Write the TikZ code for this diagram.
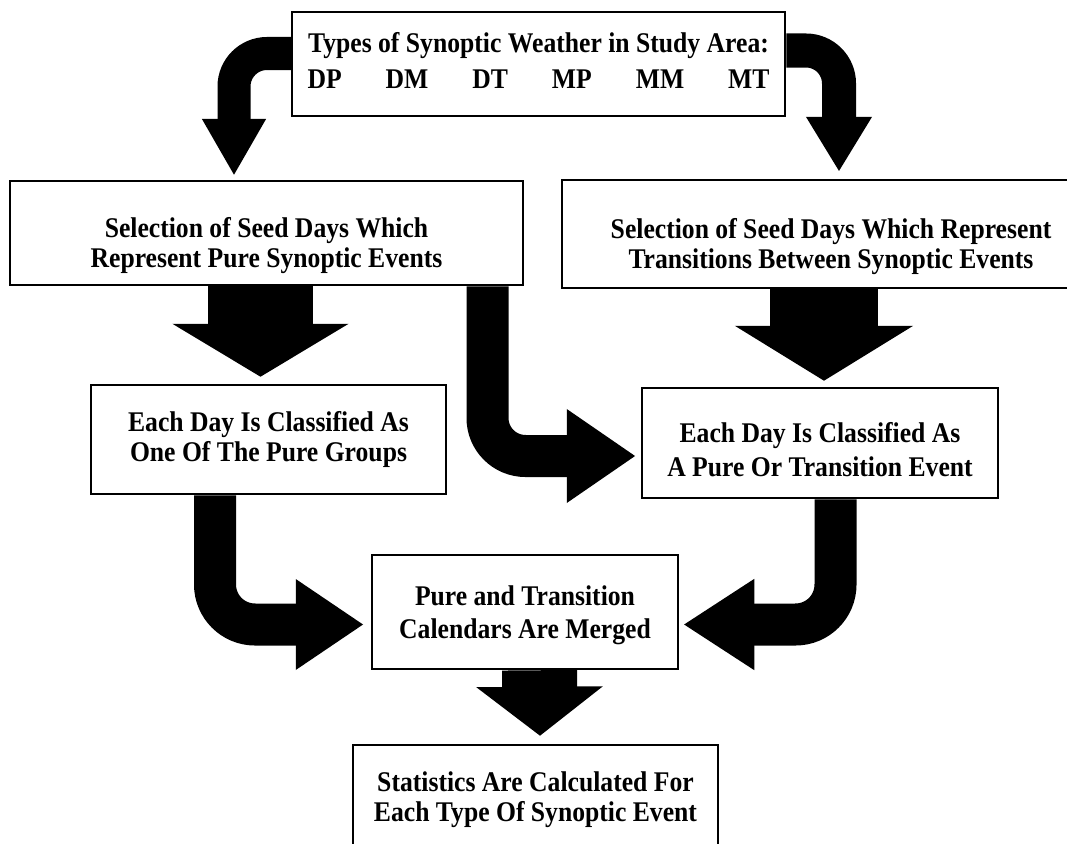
\documentclass[tikz,border=0pt]{standalone}
\usepackage{fontspec}
\setmainfont{Liberation Serif}[FakeStretch=0.9]
\usetikzlibrary{arrows.meta}

\newcommand{\drop}[1]{\rule{0pt}{#1pt}}

\begin{document}
\begin{tikzpicture}[
    x=1pt,y=-1pt,
    box/.style={draw,line width=2.5pt,align=center,inner sep=0pt,
      font=\fontsize{28.5}{30}\selectfont\bfseries},
    fat/.style n args={3}{line width=#1,-{Triangle[width=#2,length=#3]}}
    ]
    \useasboundingbox (0,0) rectangle (1067,843);
    \node[box,minimum width=493pt,minimum height=104pt,
      font=\fontsize{28.5}{36}\selectfont\bfseries] (types) at (538.5,64)
      {Types of Synoptic Weather in Study Area:\\
       \makebox[462pt]{DP\hfill DM\hfill DT\hfill MP\hfill MM\hfill MT}\rule[-8pt]{0pt}{8pt}};
    \node[box,minimum width=513pt,minimum height=104pt] (seedpure) at (266.5,233)
      {\drop{45}Selection of Seed Days Which\\Represent Pure Synoptic Events};
    \node[box,minimum width=538pt,minimum height=108pt] (seedtrans) at (831,234)
      {\drop{45}Selection of Seed Days Which Represent\\Transitions Between Synoptic Events};
    \node[box,minimum width=355pt,minimum height=109pt] (classpure) at (268.5,439.5)
      {Each Day Is Classified As\\One Of The Pure Groups};
    \node[box,minimum width=356pt,minimum height=110pt,
      font=\fontsize{28.5}{34}\selectfont\bfseries] (classtrans) at (820,443)
      {\drop{34}Each Day Is Classified As\\A Pure Or Transition Event};
    \node[box,minimum width=306pt,minimum height=114pt,
      font=\fontsize{28.5}{33}\selectfont\bfseries] (merged) at (525,612)
      {\drop{27}Pure and Transition\\Calendars Are Merged};
    \node[box,minimum width=365pt,minimum height=109pt] (stats) at (535.5,799.5)
      {Statistics Are Calculated For\\Each Type Of Synoptic Event};

    % block arrows
    \draw[fat={33pt}{60pt}{57pt},rounded corners=33pt]
      ([yshift=10.5pt]types.west) -| ([xshift=-32.5pt,yshift=4pt]seedpure.north);
    \draw[fat={34pt}{62pt}{55pt},rounded corners=33pt]
      ([yshift=13.5pt]types.east) -| ([xshift=8pt,yshift=7pt]seedtrans.north);
    \draw[fat={105pt}{174pt}{53pt}]
      ([xshift=-6pt]seedpure.south) -- ([xshift=-8pt,yshift=7pt]classpure.north);
    \draw[fat={108pt}{176pt}{55pt}]
      ([xshift=-7pt]seedtrans.south) -- ([xshift=4pt,yshift=6pt]classtrans.north);
    \draw[fat={42pt}{89pt}{69pt},rounded corners=38pt]
      ([xshift=221pt]seedpure.south) |- ([xshift=-5pt,yshift=-13pt]classtrans.west);
    \draw[fat={42pt}{86pt}{68pt},rounded corners=40pt]
      ([xshift=-53.5pt]classpure.south) |- ([xshift=-7pt,yshift=-12.5pt]merged.west);
    \draw[fat={42pt}{86pt}{71pt},rounded corners=40pt]
      ([xshift=15.5pt]classtrans.south) |- ([xshift=4pt,yshift=-12.5pt]merged.east);
    \draw[fat={75pt}{124pt}{49pt}]
      ([xshift=14.5pt]merged.south) -- ([xshift=4.5pt,yshift=8pt]stats.north);
  \end{tikzpicture}
\end{document}
